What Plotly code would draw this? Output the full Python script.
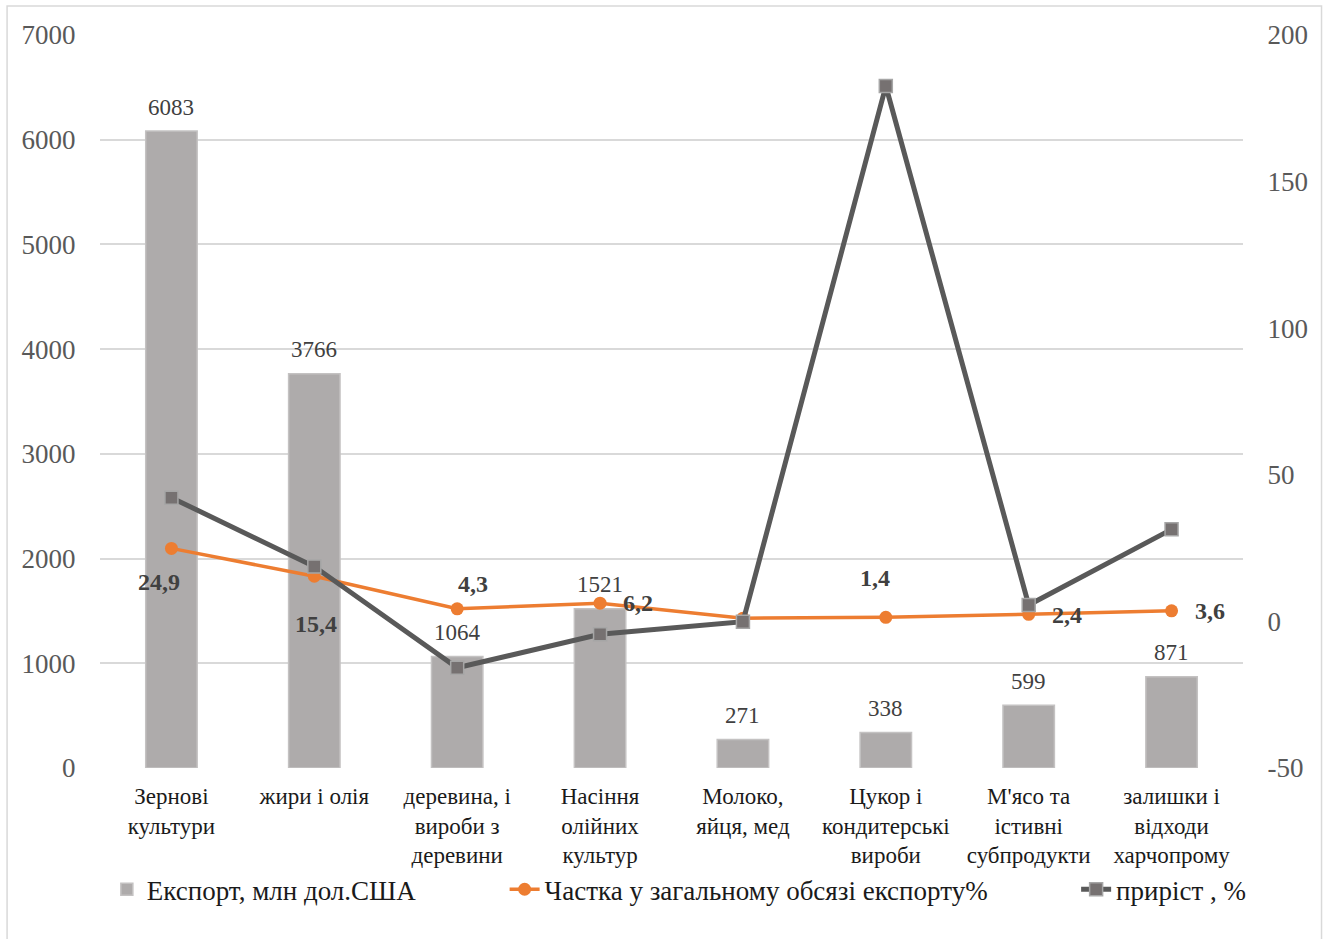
import plotly.graph_objects as go

# Product groups (x categories)
categories = [
    "Зернові<br>культури",
    "жири і олія",
    "деревина, і<br>вироби з<br>деревини",
    "Насіння<br>олійних<br>культур",
    "Молоко,<br>яйця, мед",
    "Цукор і<br>кондитерські<br>вироби",
    "М'ясо та<br>істивні<br>субпродукти",
    "залишки і<br>відходи<br>харчопрому",
]

# Export volume, mln USD
export_values = [6083, 3766, 1064, 1521, 271, 338, 599, 871]
# Share of total export, %
share_values = [24.9, 15.4, 4.3, 6.2, 1.1, 1.4, 2.4, 3.6]
# Growth, %
growth_values = [42.2, 18.7, -15.8, -4.4, -0.1, 182.6, 5.6, 31.4]

# Right-axis ticks (plain hyphen for negatives)
growth_ticks = [-50, 0, 50, 100, 150, 200]

# Which share points get a value label, and the label offsets (px)
share_label_shown = [True, True, True, True, False, True, True, True]
share_label_dx = [-12, 2, 16, 38, 0, -11, 38, 38]
share_label_dy = [-34, -48, 25, 0, 0, 39, -1, 0]

FONT = "Liberation Serif"
GRID = "#D9D9D9"

fig = go.Figure()

fig.add_trace(go.Bar(
    x=categories, y=export_values,
    name="Експорт, млн дол.США",
    marker=dict(color="#AEABAB", line=dict(color="#C4C2C2", width=1.5)),
    yaxis="y", legend="legend",
    hoverinfo="x+y",
))

fig.add_trace(go.Scatter(
    x=categories, y=share_values,
    name="Частка у загальному обсязі експорту%",
    mode="lines+markers",
    line=dict(color="#ED7D31", width=3.5),
    marker=dict(symbol="circle", size=13, color="#ED7D31"),
    yaxis="y2", legend="legend2",
))

fig.add_trace(go.Scatter(
    x=categories, y=growth_values,
    name="приріст , %",
    mode="lines+markers",
    line=dict(color="#595959", width=5),
    marker=dict(symbol="square", size=13, color="#767171",
                line=dict(color="#A6A6A6", width=1.5)),
    yaxis="y2", legend="legend3",
))

annotations = []
# Bar value labels
for cat, v in zip(categories, export_values):
    annotations.append(dict(
        x=cat, y=v, xref="x", yref="y", text=str(v), showarrow=False,
        yanchor="middle", yshift=24,
        font=dict(family=FONT, size=23, color="#404040"),
    ))
# Share value labels (bold)
for cat, v, show, dx, dy in zip(categories, share_values, share_label_shown,
                                share_label_dx, share_label_dy):
    if not show:
        continue
    annotations.append(dict(
        x=cat, y=v, xref="x", yref="y2",
        text="<b>" + f"{v:.1f}".replace(".", ",") + "</b>",
        showarrow=False, xanchor="center", yanchor="middle",
        xshift=dx, yshift=dy,
        font=dict(family=FONT, size=24, color="#404040"),
    ))

legend_common = dict(
    orientation="h", yanchor="middle", y=-0.166, xanchor="left",
    font=dict(family=FONT, size=27, color="#1A1A1A"),
    bgcolor="rgba(0,0,0,0)", itemclick=False, itemdoubleclick=False,
)

fig.update_layout(
    width=1330, height=939,
    margin=dict(l=100, r=87, t=35, b=171),
    paper_bgcolor="white", plot_bgcolor="white",
    font=dict(family=FONT, color="#595959"),
    bargap=0.64,
    showlegend=True,
    legend=dict(legend_common, x=0.006),
    legend2=dict(legend_common, x=0.354),
    legend3=dict(legend_common, x=0.854),
    annotations=annotations,
    xaxis=dict(
        type="category", showgrid=False, showline=False, zeroline=False,
        ticks="outside", ticklen=7, tickcolor="rgba(0,0,0,0)",
        tickfont=dict(family=FONT, size=23, color="#1A1A1A"),
    ),
    yaxis=dict(
        range=[0, 7000], dtick=1000, showgrid=True, gridcolor=GRID, gridwidth=1.5,
        zeroline=False, showline=False,
        ticks="outside", ticklen=18, tickcolor="rgba(0,0,0,0)",
        tickfont=dict(family=FONT, size=27, color="#595959"),
    ),
    yaxis2=dict(
        range=[-50, 200], overlaying="y", side="right",
        tickmode="array", tickvals=growth_ticks,
        ticktext=[str(t) for t in growth_ticks],
        showgrid=False, zeroline=False, showline=False,
        ticks="outside", ticklen=18, tickcolor="rgba(0,0,0,0)",
        tickfont=dict(family=FONT, size=27, color="#595959"),
    ),
    shapes=[dict(
        type="rect", xref="paper", yref="paper",
        x0=-0.0813, x1=1.0687, y0=-0.26, y1=1.0396,
        line=dict(color=GRID, width=1.5), fillcolor="rgba(0,0,0,0)",
        layer="below",
    )],
)

fig.write_html("out.html")
